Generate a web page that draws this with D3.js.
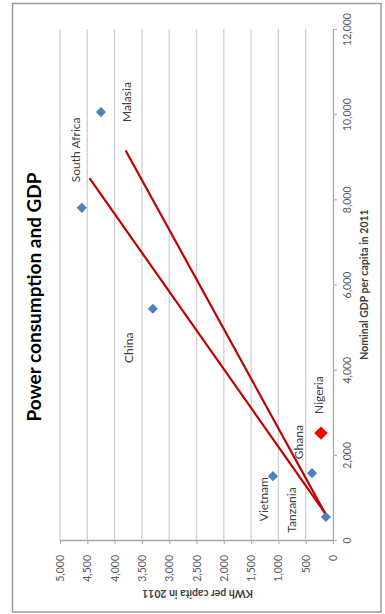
<!DOCTYPE html>
<html>
<head>
<meta charset="utf-8">
<script src="https://cdn.jsdelivr.net/npm/d3@7"></script>
<style>
  html, body { margin: 0; padding: 0; background: #ffffff; }
  svg { display: block; font-family: Lato, "Open Sans", sans-serif; }
</style>
</head>
<body>
<svg id="chart" width="385" height="614"></svg>
<script>
// Countries, electricity use (kWh per capita) and nominal GDP per capita, 2011
const categories = ["South Africa", "Malasia", "China", "Nigeria", "Ghana", "Vietnam", "Tanzania"];
const kwhValues  = [4600, 4250, 3300, 220, 385, 1100, 130];
const gdpValues  = [7800, 10050, 5430, 2510, 1570, 1500, 540];
const highlighted = "Nigeria";

// Two hand-drawn trend strokes: shared start, separate ends (kWh, GDP)
const trendStartKwh = 150, trendStartGdp = 640;
const trendEndKwh = [4450, 3790];
const trendEndGdp = [8480, 9130];

// Axis ticks
const kwhTicks = [0, 500, 1000, 1500, 2000, 2500, 3000, 3500, 4000, 4500, 5000];
const gdpTicks = [0, 2000, 4000, 6000, 8000, 10000, 12000];

const titleText = "Power consumption and GDP";
const kwhTitle = "KWh per capita in 2011";
const gdpTitle = "Nominal GDP per capita in 2011";

// ---------- layout (the chart is laid out turned on its side) ----------
const svg = d3.select("#chart");
const plot = { left: 60, right: 333, top: 29, bottom: 540 };

const x = d3.scaleLinear().domain([0, 5000]).range([plot.right, plot.left]);
const y = d3.scaleLinear().domain([0, 12000]).range([plot.bottom, plot.top]);
const fmt = d3.format(",");

// outer frame
svg.append("rect")
  .attr("x", 12.5).attr("y", 3.5).attr("width", 368.5).attr("height", 608.5)
  .attr("fill", "#ffffff").attr("stroke", "#9a9a9a").attr("stroke-width", 1.5);

// gridlines at each kWh tick
svg.append("g").selectAll("line").data(kwhTicks.filter(d => d > 0)).join("line")
  .attr("x1", d => x(d)).attr("x2", d => x(d))
  .attr("y1", plot.top).attr("y2", plot.bottom)
  .attr("stroke", "#d0d0d0").attr("stroke-width", 1.3);

// kWh axis along the bottom
const kwhAxis = svg.append("g")
  .attr("transform", `translate(0,${plot.bottom})`)
  .call(d3.axisBottom(x).tickValues(kwhTicks).tickFormat(fmt).tickSizeInner(4).tickSizeOuter(0));
kwhAxis.select(".domain").attr("stroke", "#a6a6a6").attr("stroke-width", 1.3);
kwhAxis.selectAll(".tick line").attr("stroke", "#b0b0b0").attr("stroke-width", 1.2);
kwhAxis.selectAll(".tick text")
  .attr("transform", "rotate(-90)")
  .attr("x", -15).attr("y", 3.5).attr("dy", null)
  .attr("text-anchor", "end")
  .attr("fill", "#595959")
  .style("font-size", "10.5px");

// GDP axis along the right edge of the plot
const gdpAxis = svg.append("g")
  .attr("transform", `translate(${plot.right},0)`)
  .call(d3.axisRight(y).tickValues(gdpTicks).tickFormat(fmt).tickSizeInner(4).tickSizeOuter(0));
gdpAxis.select(".domain").attr("stroke", "#a6a6a6").attr("stroke-width", 1.3);
gdpAxis.selectAll(".tick line").attr("stroke", "#b0b0b0").attr("stroke-width", 1.2);
gdpAxis.selectAll(".tick text")
  .attr("transform", "rotate(-90)")
  .attr("x", 0).attr("y", 18).attr("dy", null)
  .attr("text-anchor", "middle")
  .attr("fill", "#595959")
  .style("font-size", "10.5px");
svg.selectAll(".tick text").style("font-family", "Lato, sans-serif");

// axis titles
svg.append("text")
  .attr("transform", `translate(${(plot.left + plot.right) / 2 + 1},590) rotate(180)`)
  .attr("text-anchor", "middle")
  .attr("fill", "#404040").style("font-weight", "bold").style("font-size", "10.5px")
  .text(kwhTitle);

svg.append("text")
  .attr("transform", `translate(368,${(plot.top + plot.bottom) / 2}) rotate(-90)`)
  .attr("text-anchor", "middle")
  .attr("fill", "#404040").style("font-weight", "bold").style("font-size", "10.5px")
  .text(gdpTitle);

// chart title
svg.append("text")
  .attr("transform", `translate(41,297) rotate(-90)`)
  .attr("text-anchor", "middle")
  .attr("fill", "#000000").style("font-weight", "bold").style("font-size", "19px")
  .text(titleText);

// trend strokes
svg.append("g").selectAll("line").data(trendEndKwh).join("line")
  .attr("x1", x(trendStartKwh)).attr("y1", y(trendStartGdp))
  .attr("x2", (d, i) => x(d)).attr("y2", (d, i) => y(trendEndGdp[i]))
  .attr("stroke", "#c00000").attr("stroke-width", 2.2).attr("stroke-linecap", "round");

// points
const points = categories.map((c, i) => ({ name: c, kwh: kwhValues[i], gdp: gdpValues[i] }));
const diamond = (side) => d3.symbol().type(d3.symbolSquare).size(side * side)();

svg.append("g").selectAll("path").data(points).join("path")
  .attr("d", d => diamond(d.name === highlighted ? 9.5 : 7.2))
  .attr("transform", d => `translate(${x(d.kwh)},${y(d.gdp)}) rotate(45)`)
  .attr("fill", d => d.name === highlighted ? "#ff0000" : "#4f81bd");

// data labels, placed beside each point
const labelOffset = {
  "South Africa": [-6, -58],
  "Malasia": [26, -10],
  "China": [-24, 39],
  "Nigeria": [-2, -38],
  "Ghana": [-13, -31],
  "Vietnam": [-9, 23],
  "Tanzania": [-34, -7]
};
svg.append("g").selectAll("text").data(points).join("text")
  .attr("transform", d => {
    const [dx, dy] = labelOffset[d.name];
    return `translate(${x(d.kwh) + dx + 4},${y(d.gdp) + dy}) rotate(-90)`;
  })
  .attr("text-anchor", "middle")
  .attr("fill", "#404040")
  .style("font-size", "12px")
  .text(d => d.name);
</script>
</body>
</html>
